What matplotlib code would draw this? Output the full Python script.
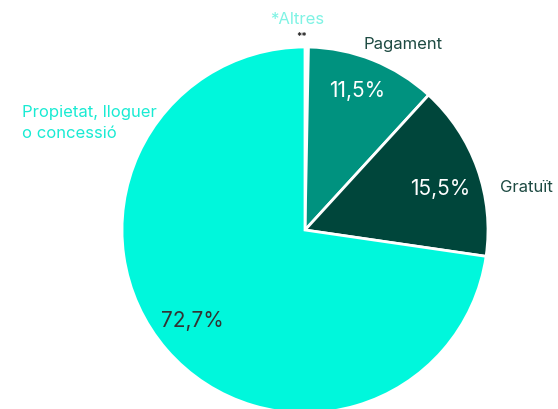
import matplotlib
matplotlib.use('Agg')
from matplotlib import pyplot as plt

plt.rcParams['font.family'] = ['Inter', 'DejaVu Sans']

labels = ['*Altres', 'Pagament', 'Gratuït', 'Propietat, lloguer\no concessió']
values = [0.3, 11.5, 15.5, 72.7]
pct_text = ['**', '11,5%', '15,5%', '72,7%']
colors = ['#ffffff', '#00927f', '#00463b', '#00f7dc']
label_colors = ['#7ff3e4', '#1d4a42', '#1d4a42', '#19ebd3']
pct_colors = ['#222222', '#ffffff', '#ffffff', '#333333']

fig = plt.figure(figsize=(5.58, 4.09), dpi=100)
ax = fig.add_axes([0, 0, 1, 1])

wedges, texts = ax.pie(values, startangle=90, counterclock=False,
                       colors=colors, center=(305, 179), radius=183,
                       wedgeprops=dict(edgecolor='white', linewidth=2),
                       frame=True)
ax.set_xlim(0, 558)
ax.set_ylim(0, 409)
ax.set_aspect('equal')
ax.axis('off')

# percentatges
pct_pos = [(302, 372), (357, 318), (440, 220), (192, 88)]
for i, t in enumerate(pct_text):
    fs = 7 if i == 0 else 15
    ax.text(pct_pos[i][0], pct_pos[i][1], t, ha='center', va='center',
            fontsize=fs, color=pct_colors[i], fontweight='bold' if i == 0 else 'normal')

# etiquetes
ax.text(297, 390, labels[0], ha='center', va='center', fontsize=12, color=label_colors[0])
ax.text(403, 364, labels[1], ha='center', va='center', fontsize=12, color=label_colors[1])
ax.text(500, 222, labels[2], ha='left', va='center', fontsize=12, color=label_colors[2])
ax.text(22, 286, labels[3], ha='left', va='center', fontsize=12, color=label_colors[3],
        linespacing=1.45)

fig.savefig('out.png', dpi=100)
